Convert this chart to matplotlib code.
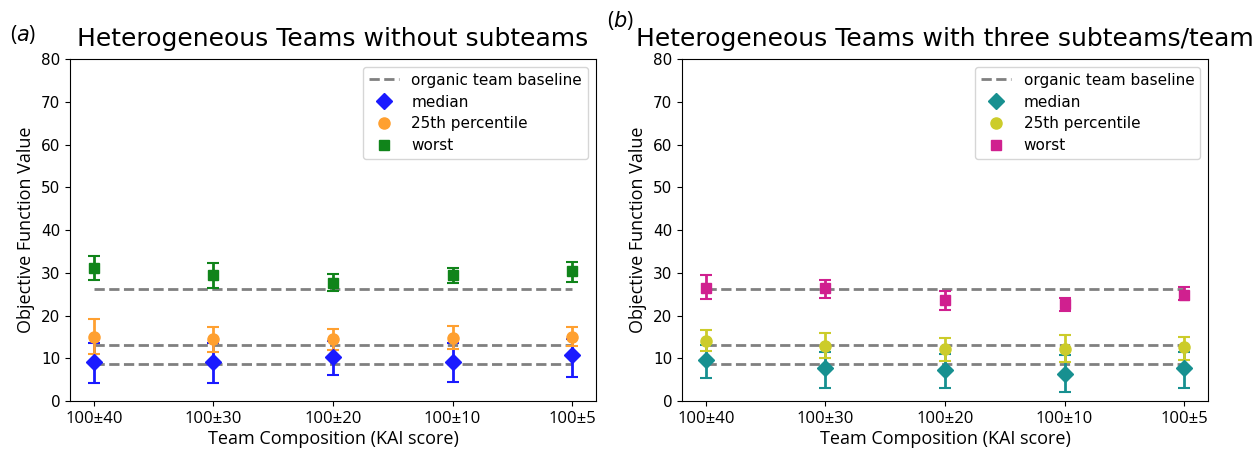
import numpy as np
import matplotlib
matplotlib.use('Agg')
import matplotlib.pyplot as plt
from matplotlib.lines import Line2D

# team compositions on the x axis
compositions = ['100±40', '100±30', '100±20', '100±10', '100±5']

# organic team baselines (worst, 25th percentile, median)
baselines = [26.2, 13.0, 8.7]

# (a) heterogeneous teams without subteams
a_median = [9.2, 9.2, 10.4, 9.2, 10.8]
a_median_lo = [4.1, 4.1, 6.0, 4.5, 5.7]
a_median_hi = [13.5, 13.5, 14.0, 13.5, 14.5]
a_p25 = [15.0, 14.4, 14.4, 14.8, 15.0]
a_p25_lo = [11.0, 11.5, 11.9, 12.2, 12.9]
a_p25_hi = [19.1, 17.2, 16.8, 17.6, 17.2]
a_worst = [31.2, 29.4, 27.6, 29.4, 30.4]
a_worst_lo = [28.2, 26.4, 25.7, 27.6, 27.8]
a_worst_hi = [34.0, 32.2, 29.7, 31.2, 32.6]

# (b) heterogeneous teams with three subteams/team
b_median = [9.5, 7.8, 7.3, 6.3, 7.8]
b_median_lo = [5.3, 3.0, 3.0, 2.2, 3.0]
b_median_hi = [13.0, 11.5, 11.0, 10.8, 11.5]
b_p25 = [14.0, 12.9, 12.2, 12.2, 12.6]
b_p25_lo = [11.6, 10.0, 9.3, 9.1, 9.6]
b_p25_hi = [16.6, 15.8, 14.7, 15.4, 15.0]
b_worst = [26.5, 26.4, 23.6, 22.8, 24.9]
b_worst_lo = [23.8, 24.2, 21.4, 21.0, 23.6]
b_worst_hi = [29.5, 28.3, 25.7, 24.0, 26.7]

label_font = 'Open Sans'


def draw_panel(ax, title, series, colors):
    x = np.arange(len(compositions))
    for b in baselines:
        ax.hlines(b, x[0], x[-1], colors='grey', linestyles='--', linewidth=2, zorder=1)

    markers = ['D', 'o', 's']
    sizes = [8, 8, 7]
    names = ['median', '25th percentile', 'worst']
    handles = [Line2D([], [], color='grey', ls='--', lw=2, label='organic team baseline')]
    for (vals, lo, hi), col, mk, ms, name in zip(series, colors, markers, sizes, names):
        vals = np.array(vals)
        yerr = [vals - np.array(lo), np.array(hi) - vals]
        ax.errorbar(x, vals, yerr=yerr, fmt=mk, color=col, ms=ms, capsize=4,
                    elinewidth=2, capthick=1.5, zorder=2)
        handles.append(Line2D([], [], ls='', marker=mk, color=col, ms=ms, label=name))

    ax.set_ylim(0, 80)
    ax.set_xticks(x)
    ax.set_xticklabels(compositions, fontsize=12, family=label_font)
    ax.tick_params(axis='y', labelsize=11)
    ax.set_xlabel('Team Composition (KAI score)', fontsize=13, family=label_font, labelpad=2)
    ax.set_ylabel('Objective Function Value', fontsize=13, family=label_font)
    ax.set_title(title, fontsize=18, pad=9)
    ax.legend(handles=handles, loc='upper right', fontsize=11, labelspacing=0.45)


fig = plt.figure(figsize=(12.56, 4.57), dpi=100)
ax1 = fig.add_axes([0.0557, 0.1225, 0.4188, 0.7484])
ax2 = fig.add_axes([0.543, 0.1225, 0.4188, 0.7484])

draw_panel(ax1, 'Heterogeneous Teams without subteams',
           [(a_median, a_median_lo, a_median_hi),
            (a_p25, a_p25_lo, a_p25_hi),
            (a_worst, a_worst_lo, a_worst_hi)],
           ['#1a1aff', '#ffa030', '#10841a'])
draw_panel(ax2, 'Heterogeneous Teams with three subteams/team',
           [(b_median, b_median_lo, b_median_hi),
            (b_p25, b_p25_lo, b_p25_hi),
            (b_worst, b_worst_lo, b_worst_hi)],
           ['#179090', '#cccc2a', '#d0208f'])

fig.text(0.008, 0.91, r'($a$)', fontsize=15, family=label_font)
fig.text(0.483, 0.94, r'($b$)', fontsize=15, family=label_font)

fig.savefig('out.png', dpi=100)
